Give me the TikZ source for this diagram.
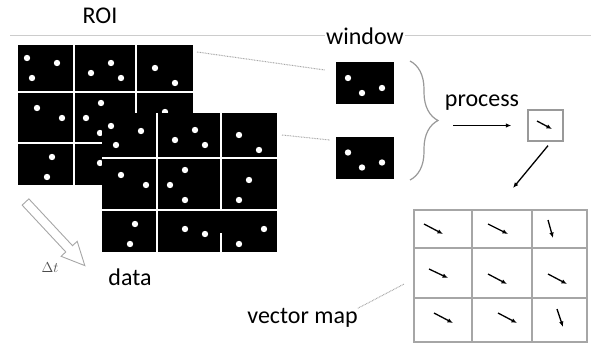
\documentclass[tikz,border=0pt]{standalone}
\usepackage{fontspec}
\setmainfont{Carlito}
\usetikzlibrary{positioning, arrows.meta, calc, decorations.pathreplacing}

\begin{document}
\begin{tikzpicture}[x=1pt, y=-1pt, font=\fontsize{24}{28}\selectfont,
    cellgap/.style={white, line width=1.7pt},
    dotline/.style={gray!70, dash pattern=on 0.8pt off 0.8pt, line width=1pt},
    vecarrow/.style={-{Latex[length=5.5pt,width=4.5pt]}, line width=1.3pt},
    lbl/.style={inner sep=0pt}]
    \useasboundingbox (0,0) rectangle (591,343);
    \draw[gray!40, line width=0.9pt] (10,35) -- (591,35);
    \node[lbl] (roi) at (100,16) {ROI};

    % first frame
    \fill (18,45) rectangle (193,185);
    \draw[cellgap] (74,45) -- (74,185) (136,45) -- (136,185) (18,92) -- (193,92) (18,143) -- (193,143);
    \foreach \x/\y in {27/58, 57/63, 32/78, 111/63, 91/73, 121/78, 155/68, 175/83, 37/108, 62/118,
        101/103, 86/118, 100/133, 165/112, 52/157, 47/177, 100/163}
        \fill[white] (\x,\y) circle (3.2);

    % second frame
    \fill (102,113) rectangle (277,252);
    \draw[cellgap] (157,113) -- (157,252) (221,113) -- (221,210) (221,233) -- (221,252)
        (102,158) -- (277,158) (102,210) -- (277,210);
    \foreach \x/\y in {111/126, 141/131, 116/145, 195/130, 175/140, 205/145, 239/135, 259/150,
        121/175, 146/185, 185/170, 170/185, 185/200, 249/180, 239/200, 135/224, 130/244,
        185/229, 205/234, 264/229, 239/244}
        \fill[white] (\x,\y) circle (3.2);

    \node[lbl] (data) at (130,277) {data};
    \node[lbl, font=\fontsize{15}{16}\selectfont, gray!60!black] (dt) at (50,268) {$\Delta t$};
    \begin{scope}[shift={(25.5,202)}, rotate=-47]
        \draw[gray!70, line width=0.9pt] (0,-4.6) -- (64,-4.6) -- (64,-11) -- (87,0) -- (64,11) -- (64,4.6) -- (0,4.6) -- cycle;
    \end{scope}

    % windows
    \node[fill=black, minimum width=58pt, minimum height=42pt, inner sep=0pt] (win1) at (365,83) {};
    \node[fill=black, minimum width=58pt, minimum height=42pt, inner sep=0pt] (win2) at (365,157.5) {};
    \foreach \w in {win1, win2}
        \foreach \dx/\dy in {-17/-5, -3/10, 17/5}
            \fill[white] ($(\w.center)+(\dx,\dy)$) circle (3.2);
    \node[lbl, fill=white, inner sep=1pt] (winlbl) at (365,36) {window};
    \coordinate (roicorner) at (197,52);
    \coordinate (datacorner) at (282,135);
    \draw[dotline] (roicorner) -- ([shift={(-11,-13)}]win1.west);
    \draw[dotline] (datacorner) -- ([shift={(-6,-17.5)}]win2.west);

    % process
    \draw[gray!80, line width=1.2pt, decorate, decoration={brace, amplitude=28pt}] (410,61) -- (410,180);
    \node[lbl] (proclbl) at (482,103) {process};
    \node[draw=gray!80, line width=1.3pt, minimum width=35pt, minimum height=31pt, inner sep=0pt] (procbox) at (545.5,125.5) {};
    \draw[vecarrow] ([xshift=-74pt]procbox.west) -- ([xshift=-16pt]procbox.west);
    \draw[vecarrow] ($(procbox.center)+(-8.5,-4.5)$) -- ($(procbox.center)+(6.5,3.5)$);
    \coordinate (vmtop) at (513,188);
    \draw[vecarrow] ([shift={(2.5,4)}]procbox.south) -- (vmtop);

    % vector map
    \node[draw=gray!70, line width=1.7pt, minimum width=173pt, minimum height=132pt, inner sep=0pt] (vmap) at (500.5,276) {};
    \draw[gray!70, line width=1.7pt] (472,210) -- (472,342) (532,210) -- (532,342) (414,248) -- (587,248) (414,298) -- (587,298);
    \foreach \xa/\ya/\xb/\yb in {424/224/443/234, 488/224/508/234, 548/220/553/238,
        429/269/448/278, 488/274/507/284, 548/274/567/284,
        434/313/453/323, 498/313/517/323, 557/309/563/327}
        \draw[vecarrow] (\xa,\ya) -- (\xb,\yb);
    \node[lbl] (vmlbl) at (302.5,318) {vector map};
    \draw[dotline] (vmlbl.north east) -- ([shift={(-9,8)}]vmap.west);
\end{tikzpicture}
\end{document}
